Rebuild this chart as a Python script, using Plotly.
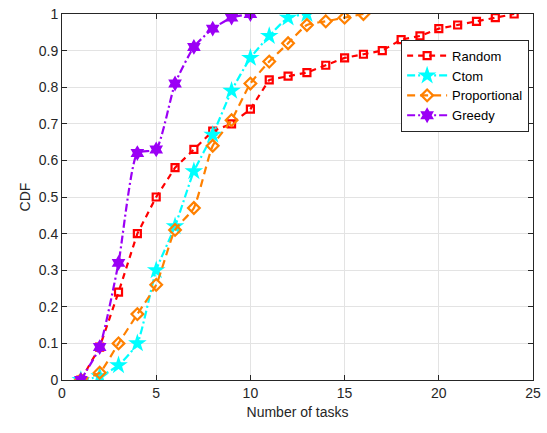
import plotly.graph_objects as go

rand_x = list(range(1, 25))
rand_y = [0, 0.09, 0.24, 0.40, 0.50, 0.58, 0.63, 0.68, 0.70, 0.74, 0.82, 0.83,
          0.84, 0.86, 0.88, 0.89, 0.90, 0.93, 0.94, 0.96, 0.97, 0.98, 0.99, 1.0]
ctom_x = list(range(1, 14))
ctom_y = [0, 0.01, 0.04, 0.10, 0.30, 0.42, 0.57, 0.67, 0.79, 0.88, 0.94, 0.99, 1.0]
prop_x = list(range(1, 17))
prop_y = [0, 0.02, 0.10, 0.18, 0.26, 0.41, 0.47, 0.64, 0.71, 0.81, 0.87, 0.92,
          0.97, 0.98, 0.99, 1.0]
greedy_x = list(range(1, 11))
greedy_y = [0, 0.09, 0.32, 0.62, 0.63, 0.81, 0.91, 0.96, 0.99, 1.0]

x_ticks = [0, 5, 10, 15, 20, 25]
y_ticks = [0, 0.1, 0.2, 0.3, 0.4, 0.5, 0.6, 0.7, 0.8, 0.9, 1]

FONT = "Liberation Sans, Arial"

fig = go.Figure()
fig.add_trace(go.Scatter(x=rand_x, y=rand_y, name="Random", mode="lines+markers",
                         line=dict(color="#ff0000", dash="6px,5px", width=2.2),
                         marker=dict(symbol="square-open", size=7, color="#ff0000",
                                     line=dict(width=2.2, color="#ff0000"))))
fig.add_trace(go.Scatter(x=ctom_x, y=ctom_y, name="Ctom", mode="lines+markers",
                         line=dict(color="#00ffff", dash="8px,3px,2px,3px", width=2.2, shape="spline", smoothing=0.5),
                         marker=dict(symbol="star", size=14, color="#00ffff",
                                     line=dict(width=0))))
fig.add_trace(go.Scatter(x=prop_x, y=prop_y, name="Proportional", mode="lines+markers",
                         line=dict(color="#ff8000", dash="8px,5px", width=2.2, shape="spline", smoothing=0.5),
                         marker=dict(symbol="diamond-open", size=9, color="#ff8000",
                                     line=dict(width=2.2, color="#ff8000"))))
fig.add_trace(go.Scatter(x=greedy_x, y=greedy_y, name="Greedy", mode="lines+markers",
                         line=dict(color="#9b00f5", dash="8px,3px,2px,3px", width=2.2, shape="spline", smoothing=0.5),
                         marker=dict(symbol="hexagram", size=12, color="#9b00f5",
                                     line=dict(width=0))))

axis_common = dict(showgrid=True, gridcolor="#e3e3e3", gridwidth=1, zeroline=False,
                   showline=True, linecolor="#262626", linewidth=1, mirror="ticks",
                   ticks="inside", ticklen=5, tickcolor="#262626",
                   ticklabeloverflow="allow",
                   tickfont=dict(family=FONT, size=14, color="#262626"))

fig.update_xaxes(range=[0, 25], tickvals=x_ticks, ticktext=[str(v) for v in x_ticks],
                 title=dict(text="Number of tasks", standoff=7,
                            font=dict(family=FONT, size=14, color="#262626")),
                 **axis_common)
fig.update_yaxes(range=[0, 1], tickvals=y_ticks, ticktext=[("%g" % v) for v in y_ticks],
                 title=dict(text="CDF", standoff=4,
                            font=dict(family=FONT, size=14, color="#262626")),
                 **axis_common)

fig.update_layout(width=547, height=433, margin=dict(l=62, r=14, t=6, b=53),
                  plot_bgcolor="white", paper_bgcolor="white",
                  legend=dict(x=0.72, y=0.93, xanchor="left", yanchor="top",
                              bgcolor="white", bordercolor="#262626", borderwidth=1,
                              font=dict(family=FONT, size=13, color="#000000"),
                              tracegroupgap=0, itemwidth=40),
                  showlegend=True)

fig.write_html("out.html")
